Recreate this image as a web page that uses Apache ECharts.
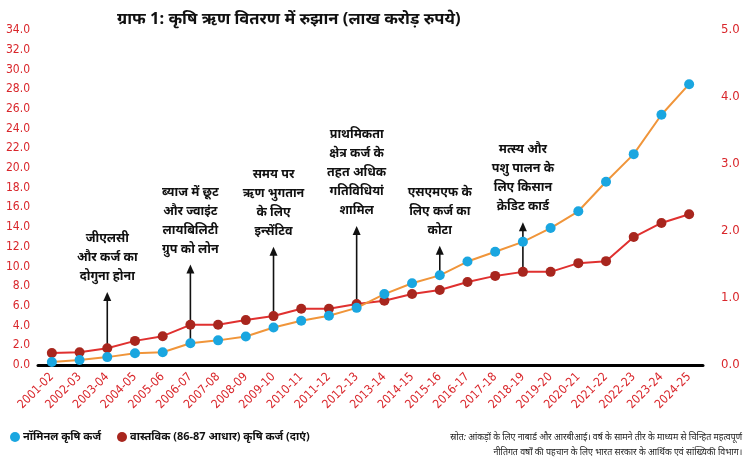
<!DOCTYPE html>
<html><head><meta charset="utf-8">
<script src="https://cdn.jsdelivr.net/npm/echarts@6/dist/echarts.min.js"></script>
<style>html,body{margin:0;padding:0;background:#fff}#c{width:750px;height:459px}</style>
</head><body><div id="c"></div>
<script>
const years = ["2001-02","2002-03","2003-04","2004-05","2005-06","2006-07","2007-08","2008-09","2009-10","2010-11","2011-12","2012-13","2013-14","2014-15","2015-16","2016-17","2017-18","2018-19","2019-20","2020-21","2021-22","2022-23","2023-24","2024-25"];
const nominal = [0.3,0.5,0.8,1.2,1.3,2.2,2.5,2.9,3.8,4.5,5.0,5.8,7.2,8.3,9.1,10.5,11.5,12.5,13.9,15.6,18.6,21.4,25.4,28.5];
const real = [0.18,0.19,0.25,0.36,0.43,0.60,0.60,0.67,0.73,0.84,0.84,0.91,0.96,1.06,1.12,1.24,1.33,1.39,1.39,1.52,1.55,1.91,2.12,2.25];
const notes = [
 {year:"2003-04", from:"real", top:7.4, text:"जीएलसी\nऔर कर्ज का\nदोगुना होना"},
 {year:"2006-07", from:"nominal", top:10.2, text:"ब्याज में छूट\nऔर ज्वाइंट\nलायबिलिटी\nग्रुप को लोन"},
 {year:"2009-10", from:"real", top:12.0, text:"समय पर\nऋण भुगतान\nके लिए\nइन्सेंटिव"},
 {year:"2012-13", from:"nominal", top:14.1, text:"प्राथमिकता\nक्षेत्र कर्ज के\nतहत अधिक\nगतिविधियां\nशामिल"},
 {year:"2015-16", from:"nominal", top:12.1, text:"एसएमएफ के\nलिए कर्ज का\nकोटा"},
 {year:"2018-19", from:"real", top:14.5, text:"मत्स्य और\nपशु पालन के\nलिए किसान\nक्रेडिट कार्ड"}
];
const RED='#d9262b';
const cond='"Liberation Sans Narrow","DejaVu Sans Condensed","Noto Sans",sans-serif';
const chart = echarts.init(document.getElementById('c'));
chart.setOption({
 animation:false,
 title:{text:'ग्राफ 1: कृषि ऋण वितरण में रुझान (लाख करोड़ रुपये)',left:112,top:6,textStyle:{fontSize:16.5,fontWeight:'bold',color:'#111',fontFamily:'"Noto Sans",sans-serif'}},
 grid:{left:38,right:47,top:30,bottom:94},
 xAxis:{type:'category',data:years,boundaryGap:['2%','2%'],axisLine:{lineStyle:{color:'#000',width:3}},axisTick:{show:false},
   axisLabel:{rotate:45,color:RED,fontSize:12,fontFamily:cond,interval:0,margin:10}},
 yAxis:[
  {type:'value',min:0,max:34,interval:2,splitLine:{show:false},axisLine:{show:false},axisTick:{show:false},
   axisLabel:{color:RED,fontSize:12,fontFamily:cond,margin:8,formatter:v=>v.toFixed(1)}},
  {type:'value',min:0,max:5,interval:1,splitLine:{show:false},axisLine:{show:false},axisTick:{show:false},
   axisLabel:{color:RED,fontSize:13,fontFamily:cond,margin:18,formatter:v=>v.toFixed(1)}}
 ],
 series:[
  {name:'nominal',type:'line',data:nominal,yAxisIndex:0,symbol:'circle',symbolSize:10,z:3,
   lineStyle:{color:'#f0953a',width:2},itemStyle:{color:'#1aa6e0'}},
  {name:'real',type:'line',data:real,yAxisIndex:1,symbol:'circle',symbolSize:10,z:2,
   lineStyle:{color:'#e0302f',width:2},itemStyle:{color:'#a8261e'}}
 ]
});
const g=[];
notes.forEach(n=>{
 const i=years.indexOf(n.year);
 const p0 = n.from==='real' ? chart.convertToPixel({xAxisIndex:0,yAxisIndex:1},[i,real[i]]) : chart.convertToPixel({xAxisIndex:0,yAxisIndex:0},[i,nominal[i]]);
 const p1 = chart.convertToPixel({xAxisIndex:0,yAxisIndex:0},[i,n.top]);
 g.push({type:'line',z:1,shape:{x1:p0[0],y1:p0[1],x2:p1[0],y2:p1[1]+6},style:{stroke:'#111',lineWidth:1.6}});
 g.push({type:'polygon',z:1,shape:{points:[[p1[0],p1[1]],[p1[0]-4,p1[1]+9],[p1[0]+4,p1[1]+9]]},style:{fill:'#111'}});
 g.push({type:'text',z:5,x:p1[0],y:p1[1]-6,style:{text:n.text,align:'center',verticalAlign:'bottom',fontSize:12.5,fontWeight:'bold',lineHeight:19,fill:'#111',fontFamily:'"Noto Sans",sans-serif'}});
});
g.push({type:'circle',shape:{cx:15,cy:437,r:5},style:{fill:'#1aa6e0'}});
g.push({type:'text',x:23,y:437,style:{text:'नॉमिनल कृषि कर्ज',verticalAlign:'middle',fontSize:11,fontWeight:'bold',fill:'#111',fontFamily:'"Noto Sans",sans-serif'}});
g.push({type:'circle',shape:{cx:122,cy:437,r:5},style:{fill:'#a8261e'}});
g.push({type:'text',x:130,y:437,style:{text:'वास्तविक (86-87 आधार) कृषि कर्ज (दाएं)',verticalAlign:'middle',fontSize:11,fontWeight:'bold',fill:'#111',fontFamily:'"Noto Sans",sans-serif'}});
g.push({type:'text',x:742,y:437,style:{text:'स्रोत: आंकड़ों के लिए नाबार्ड और आरबीआई। वर्ष के सामने तीर के माध्यम से चिन्हित महत्वपूर्ण',align:'right',verticalAlign:'middle',fontSize:8.8,fontStyle:'italic',fill:'#222',fontFamily:'"Noto Sans",sans-serif'}});
g.push({type:'text',x:742,y:452,style:{text:'नीतिगत वर्षों की पहचान के लिए भारत सरकार के आर्थिक एवं सांख्यिकी विभाग।',align:'right',verticalAlign:'middle',fontSize:8.8,fontStyle:'italic',fill:'#222',fontFamily:'"Noto Sans",sans-serif'}});
chart.setOption({graphic:g});
</script></body></html>
